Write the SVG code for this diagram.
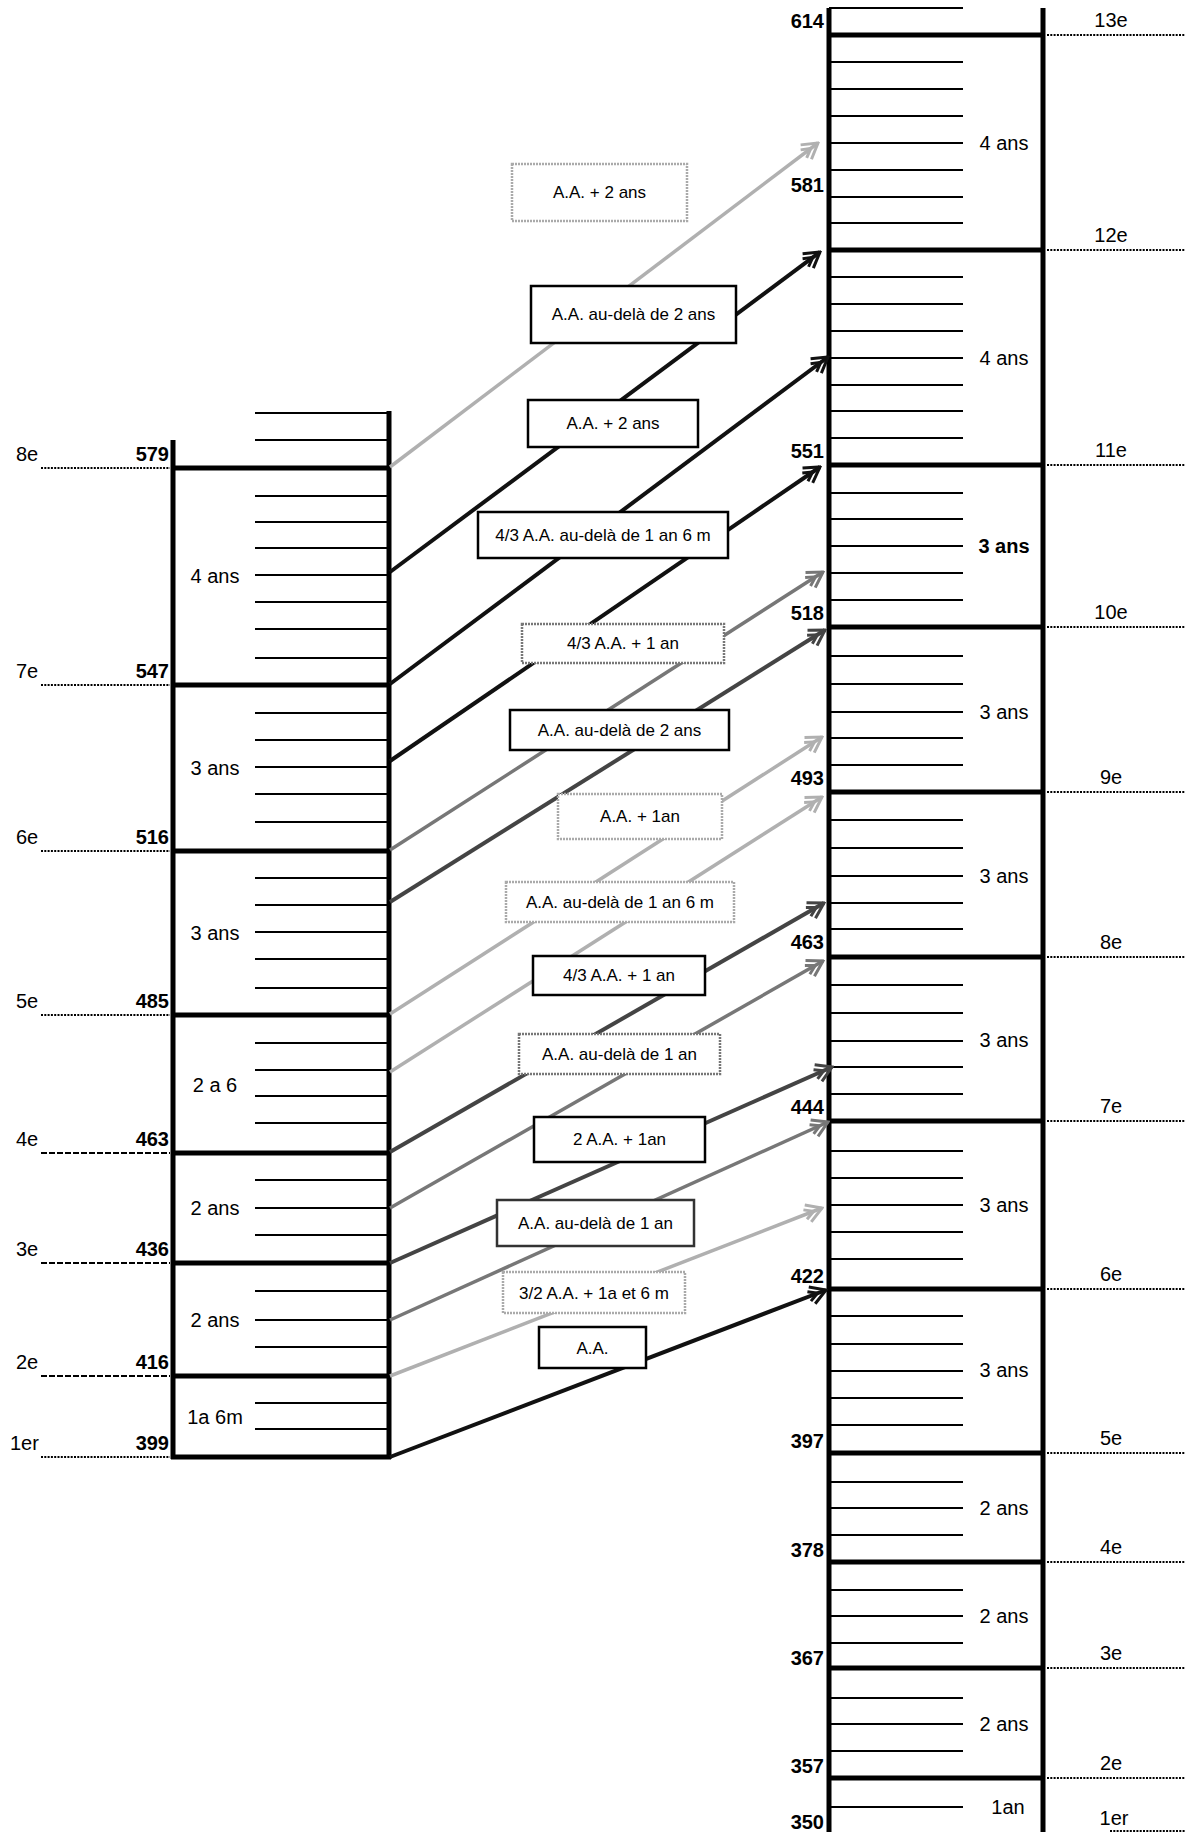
<svg xmlns="http://www.w3.org/2000/svg" width="1185" height="1832" viewBox="0 0 1185 1832">
<style>
text{font-family:"Liberation Sans",Arial,sans-serif;fill:#000}
.num{font-size:20px;font-weight:bold;text-anchor:end}
.ord{font-size:20px}
.ordr{font-size:20px;text-anchor:middle}
.sec{font-size:20px;text-anchor:middle}
.lbl{font-size:17px;text-anchor:middle}
.edge{stroke:#000;stroke-width:5;fill:none}
.major{stroke:#000;stroke-width:5}
.tick{stroke:#000;stroke-width:2}
.dot{stroke:#000;stroke-width:2;stroke-dasharray:2 1.3}
.dash{stroke:#000;stroke-width:2;stroke-dasharray:6 2}
.bx{fill:#fff;stroke:#000;stroke-width:2.5}
.bxg{fill:#fff;stroke:#777;stroke-width:2.5;stroke-dasharray:2 1}
.bxl{fill:#fff;stroke:#aaa;stroke-width:2.5;stroke-dasharray:2 1}
.c-k{stroke:#111;stroke-width:4;fill:none}
.c-d{stroke:#444;stroke-width:4;fill:none}
.c-g{stroke:#777;stroke-width:3.5;fill:none}
.c-l{stroke:#b0b0b0;stroke-width:3.5;fill:none}
</style>
<defs>
<marker id="ak" viewBox="0 0 22 22" refX="20" refY="11" markerWidth="22" markerHeight="22" markerUnits="userSpaceOnUse" orient="auto"><path d="M5,2 L20,11 L5,20 M2,6 L11,11 L2,16" fill="none" stroke="#111" stroke-width="3"/></marker>
<marker id="ad" viewBox="0 0 22 22" refX="20" refY="11" markerWidth="22" markerHeight="22" markerUnits="userSpaceOnUse" orient="auto"><path d="M5,2 L20,11 L5,20 M2,6 L11,11 L2,16" fill="none" stroke="#444" stroke-width="3"/></marker>
<marker id="ag" viewBox="0 0 22 22" refX="20" refY="11" markerWidth="22" markerHeight="22" markerUnits="userSpaceOnUse" orient="auto"><path d="M5,2 L20,11 L5,20 M2,6 L11,11 L2,16" fill="none" stroke="#777" stroke-width="3"/></marker>
<marker id="al" viewBox="0 0 22 22" refX="20" refY="11" markerWidth="22" markerHeight="22" markerUnits="userSpaceOnUse" orient="auto"><path d="M5,2 L20,11 L5,20 M2,6 L11,11 L2,16" fill="none" stroke="#b0b0b0" stroke-width="3"/></marker>
</defs>
<rect width="1185" height="1832" fill="#fff"/>

<!-- Left column -->
<g id="left-scale">
<line class="edge" x1="173" y1="440" x2="173" y2="1459"/>
<line class="edge" x1="389" y1="411" x2="389" y2="1459"/>
<g class="tick">
<line x1="255" y1="413" x2="389" y2="413"/><line x1="255" y1="440" x2="389" y2="440"/>
<line x1="255" y1="496" x2="389" y2="496"/><line x1="255" y1="522" x2="389" y2="522"/><line x1="255" y1="548" x2="389" y2="548"/><line x1="255" y1="575" x2="389" y2="575"/><line x1="255" y1="602" x2="389" y2="602"/><line x1="255" y1="629" x2="389" y2="629"/><line x1="255" y1="658" x2="389" y2="658"/>
<line x1="255" y1="713" x2="389" y2="713"/><line x1="255" y1="740" x2="389" y2="740"/><line x1="255" y1="767" x2="389" y2="767"/><line x1="255" y1="794" x2="389" y2="794"/><line x1="255" y1="822" x2="389" y2="822"/>
<line x1="255" y1="878" x2="389" y2="878"/><line x1="255" y1="905" x2="389" y2="905"/><line x1="255" y1="932" x2="389" y2="932"/><line x1="255" y1="959" x2="389" y2="959"/><line x1="255" y1="988" x2="389" y2="988"/>
<line x1="255" y1="1043" x2="389" y2="1043"/><line x1="255" y1="1070" x2="389" y2="1070"/><line x1="255" y1="1096" x2="389" y2="1096"/><line x1="255" y1="1123" x2="389" y2="1123"/>
<line x1="255" y1="1180" x2="389" y2="1180"/><line x1="255" y1="1208" x2="389" y2="1208"/><line x1="255" y1="1235" x2="389" y2="1235"/>
<line x1="255" y1="1291" x2="389" y2="1291"/><line x1="255" y1="1320" x2="389" y2="1320"/><line x1="255" y1="1347" x2="389" y2="1347"/>
<line x1="255" y1="1403" x2="389" y2="1403"/><line x1="255" y1="1429" x2="389" y2="1429"/>
</g>
<g class="major">
<line x1="171" y1="468" x2="391" y2="468"/><line x1="171" y1="685" x2="391" y2="685"/><line x1="171" y1="851" x2="391" y2="851"/><line x1="171" y1="1015" x2="391" y2="1015"/><line x1="171" y1="1153" x2="391" y2="1153"/><line x1="171" y1="1263" x2="391" y2="1263"/><line x1="171" y1="1376" x2="391" y2="1376"/><line x1="171" y1="1457" x2="391" y2="1457"/>
</g>
<line class="dot" x1="41" y1="468" x2="170" y2="468"/>
<line class="dot" x1="41" y1="685" x2="170" y2="685"/>
<line class="dot" x1="41" y1="851" x2="170" y2="851"/>
<line class="dot" x1="41" y1="1015" x2="170" y2="1015"/>
<line class="dash" x1="41" y1="1153" x2="170" y2="1153"/>
<line class="dash" x1="41" y1="1263" x2="170" y2="1263"/>
<line class="dash" x1="41" y1="1376" x2="170" y2="1376"/>
<line class="dot" x1="41" y1="1457" x2="170" y2="1457"/>
<text class="ord" x="16" y="461">8e</text><text class="num" x="169" y="461">579</text>
<text class="ord" x="16" y="678">7e</text><text class="num" x="169" y="678">547</text>
<text class="ord" x="16" y="844">6e</text><text class="num" x="169" y="844">516</text>
<text class="ord" x="16" y="1008">5e</text><text class="num" x="169" y="1008">485</text>
<text class="ord" x="16" y="1146">4e</text><text class="num" x="169" y="1146">463</text>
<text class="ord" x="16" y="1256">3e</text><text class="num" x="169" y="1256">436</text>
<text class="ord" x="16" y="1369">2e</text><text class="num" x="169" y="1369">416</text>
<text class="ord" x="10" y="1450">1er</text><text class="num" x="169" y="1450">399</text>
<text class="sec" x="215" y="583">4 ans</text>
<text class="sec" x="215" y="775">3 ans</text>
<text class="sec" x="215" y="940">3 ans</text>
<text class="sec" x="215" y="1092">2 a 6</text>
<text class="sec" x="215" y="1215">2 ans</text>
<text class="sec" x="215" y="1327">2 ans</text>
<text class="sec" x="215" y="1424">1a 6m</text>
</g>

<!-- Right column -->
<g id="right-scale">
<line class="edge" x1="829" y1="8" x2="829" y2="1832"/>
<line class="edge" x1="1043" y1="8" x2="1043" y2="1832"/>
<g class="tick">
<line x1="829" y1="8" x2="963" y2="8"/>
<line x1="829" y1="62" x2="963" y2="62"/><line x1="829" y1="89" x2="963" y2="89"/><line x1="829" y1="116" x2="963" y2="116"/><line x1="829" y1="143" x2="963" y2="143"/><line x1="829" y1="170" x2="963" y2="170"/><line x1="829" y1="197" x2="963" y2="197"/><line x1="829" y1="223" x2="963" y2="223"/>
<line x1="829" y1="277" x2="963" y2="277"/><line x1="829" y1="304" x2="963" y2="304"/><line x1="829" y1="331" x2="963" y2="331"/><line x1="829" y1="358" x2="963" y2="358"/><line x1="829" y1="385" x2="963" y2="385"/><line x1="829" y1="411" x2="963" y2="411"/><line x1="829" y1="438" x2="963" y2="438"/>
<line x1="829" y1="493" x2="963" y2="493"/><line x1="829" y1="519" x2="963" y2="519"/><line x1="829" y1="546" x2="963" y2="546"/><line x1="829" y1="573" x2="963" y2="573"/><line x1="829" y1="600" x2="963" y2="600"/>
<line x1="829" y1="656" x2="963" y2="656"/><line x1="829" y1="684" x2="963" y2="684"/><line x1="829" y1="712" x2="963" y2="712"/><line x1="829" y1="738" x2="963" y2="738"/><line x1="829" y1="765" x2="963" y2="765"/>
<line x1="829" y1="820" x2="963" y2="820"/><line x1="829" y1="848" x2="963" y2="848"/><line x1="829" y1="876" x2="963" y2="876"/><line x1="829" y1="903" x2="963" y2="903"/><line x1="829" y1="929" x2="963" y2="929"/>
<line x1="829" y1="985" x2="963" y2="985"/><line x1="829" y1="1013" x2="963" y2="1013"/><line x1="829" y1="1041" x2="963" y2="1041"/><line x1="829" y1="1067" x2="963" y2="1067"/><line x1="829" y1="1094" x2="963" y2="1094"/>
<line x1="829" y1="1151" x2="963" y2="1151"/><line x1="829" y1="1178" x2="963" y2="1178"/><line x1="829" y1="1205" x2="963" y2="1205"/><line x1="829" y1="1232" x2="963" y2="1232"/><line x1="829" y1="1259" x2="963" y2="1259"/>
<line x1="829" y1="1316" x2="963" y2="1316"/><line x1="829" y1="1344" x2="963" y2="1344"/><line x1="829" y1="1371" x2="963" y2="1371"/><line x1="829" y1="1398" x2="963" y2="1398"/><line x1="829" y1="1425" x2="963" y2="1425"/>
<line x1="829" y1="1482" x2="963" y2="1482"/><line x1="829" y1="1508" x2="963" y2="1508"/><line x1="829" y1="1535" x2="963" y2="1535"/>
<line x1="829" y1="1590" x2="963" y2="1590"/><line x1="829" y1="1616" x2="963" y2="1616"/><line x1="829" y1="1643" x2="963" y2="1643"/>
<line x1="829" y1="1698" x2="963" y2="1698"/><line x1="829" y1="1724" x2="963" y2="1724"/><line x1="829" y1="1751" x2="963" y2="1751"/>
<line x1="829" y1="1807" x2="963" y2="1807"/>
</g>
<g class="major">
<line x1="827" y1="35" x2="1045" y2="35"/><line x1="827" y1="250" x2="1045" y2="250"/><line x1="827" y1="465" x2="1045" y2="465"/><line x1="827" y1="627" x2="1045" y2="627"/><line x1="827" y1="792" x2="1045" y2="792"/><line x1="827" y1="957" x2="1045" y2="957"/><line x1="827" y1="1121" x2="1045" y2="1121"/><line x1="827" y1="1289" x2="1045" y2="1289"/><line x1="827" y1="1453" x2="1045" y2="1453"/><line x1="827" y1="1562" x2="1045" y2="1562"/><line x1="827" y1="1668" x2="1045" y2="1668"/><line x1="827" y1="1778" x2="1045" y2="1778"/>
</g>
<g class="dot">
<line x1="1047" y1="35" x2="1185" y2="35"/><line x1="1047" y1="250" x2="1185" y2="250"/><line x1="1047" y1="465" x2="1185" y2="465"/><line x1="1047" y1="627" x2="1185" y2="627"/><line x1="1047" y1="792" x2="1185" y2="792"/><line x1="1047" y1="957" x2="1185" y2="957"/><line x1="1047" y1="1121" x2="1185" y2="1121"/><line x1="1047" y1="1289" x2="1185" y2="1289"/><line x1="1047" y1="1453" x2="1185" y2="1453"/><line x1="1047" y1="1562" x2="1185" y2="1562"/><line x1="1047" y1="1668" x2="1185" y2="1668"/><line x1="1047" y1="1778" x2="1185" y2="1778"/>
<line x1="1110" y1="1831" x2="1185" y2="1831"/>
</g>
<text class="num" x="824" y="28">614</text>
<text class="num" x="824" y="192">581</text>
<text class="num" x="824" y="458">551</text>
<text class="num" x="824" y="620">518</text>
<text class="num" x="824" y="785">493</text>
<text class="num" x="824" y="949">463</text>
<text class="num" x="824" y="1114">444</text>
<text class="num" x="824" y="1283">422</text>
<text class="num" x="824" y="1448">397</text>
<text class="num" x="824" y="1557">378</text>
<text class="num" x="824" y="1665">367</text>
<text class="num" x="824" y="1773">357</text>
<text class="num" x="824" y="1829">350</text>
<text class="ordr" x="1111" y="27">13e</text>
<text class="ordr" x="1111" y="242">12e</text>
<text class="ordr" x="1111" y="457">11e</text>
<text class="ordr" x="1111" y="619">10e</text>
<text class="ordr" x="1111" y="784">9e</text>
<text class="ordr" x="1111" y="949">8e</text>
<text class="ordr" x="1111" y="1113">7e</text>
<text class="ordr" x="1111" y="1281">6e</text>
<text class="ordr" x="1111" y="1445">5e</text>
<text class="ordr" x="1111" y="1554">4e</text>
<text class="ordr" x="1111" y="1660">3e</text>
<text class="ordr" x="1111" y="1770">2e</text>
<text class="ordr" x="1114" y="1825">1er</text>
<text class="sec" x="1004" y="150">4 ans</text>
<text class="sec" x="1004" y="365">4 ans</text>
<text class="sec" x="1004" y="553" font-weight="bold">3 ans</text>
<text class="sec" x="1004" y="719">3 ans</text>
<text class="sec" x="1004" y="883">3 ans</text>
<text class="sec" x="1004" y="1047">3 ans</text>
<text class="sec" x="1004" y="1212">3 ans</text>
<text class="sec" x="1004" y="1377">3 ans</text>
<text class="sec" x="1004" y="1515">2 ans</text>
<text class="sec" x="1004" y="1623">2 ans</text>
<text class="sec" x="1004" y="1731">2 ans</text>
<text class="sec" x="1008" y="1814">1an</text>
</g>

<!-- Connectors -->
<g id="connectors">
<line class="c-l" x1="390" y1="467" x2="818" y2="143" marker-end="url(#al)"/>
<line class="c-k" x1="390" y1="572" x2="820" y2="252" marker-end="url(#ak)"/>
<line class="c-k" x1="390" y1="684" x2="828" y2="357" marker-end="url(#ak)"/>
<line class="c-k" x1="390" y1="761" x2="820" y2="467" marker-end="url(#ak)"/>
<line class="c-g" x1="390" y1="850" x2="823" y2="572" marker-end="url(#ag)"/>
<line class="c-d" x1="390" y1="902" x2="825" y2="630" marker-end="url(#ad)"/>
<line class="c-l" x1="390" y1="1014" x2="822" y2="737" marker-end="url(#al)"/>
<line class="c-l" x1="390" y1="1072" x2="822" y2="797" marker-end="url(#al)"/>
<line class="c-d" x1="390" y1="1152" x2="824" y2="903" marker-end="url(#ad)"/>
<line class="c-g" x1="390" y1="1208" x2="823" y2="961" marker-end="url(#ag)"/>
<line class="c-d" x1="390" y1="1263" x2="832" y2="1067" marker-end="url(#ad)"/>
<line class="c-g" x1="390" y1="1320" x2="828" y2="1122" marker-end="url(#ag)"/>
<line class="c-l" x1="390" y1="1376" x2="822" y2="1208" marker-end="url(#al)"/>
<line class="c-k" x1="390" y1="1457" x2="826" y2="1290" marker-end="url(#ak)"/>
</g>

<!-- Connector labels -->
<g id="lbl1"><rect class="bxl" x="512" y="164" width="175" height="57"/><text class="lbl" x="599.5" y="198">A.A. + 2 ans</text></g>
<g id="lbl2"><rect class="bx" x="531" y="286" width="205" height="57"/><text class="lbl" x="633.5" y="320">A.A. au-delà de 2 ans</text></g>
<g id="lbl3"><rect class="bx" x="528" y="400" width="170" height="47"/><text class="lbl" x="613" y="429">A.A. + 2 ans</text></g>
<g id="lbl4"><rect class="bx" x="478" y="512" width="250" height="46"/><text class="lbl" x="603" y="541">4/3 A.A. au-delà de 1 an 6 m</text></g>
<g id="lbl5"><rect class="bxg" x="522" y="624" width="202" height="39"/><text class="lbl" x="623" y="649">4/3 A.A. + 1 an</text></g>
<g id="lbl6"><rect class="bx" x="510" y="710" width="219" height="40"/><text class="lbl" x="619.5" y="736">A.A. au-delà de 2 ans</text></g>
<g id="lbl7"><rect class="bxl" x="558" y="794" width="164" height="45"/><text class="lbl" x="640" y="822">A.A. + 1an</text></g>
<g id="lbl8"><rect class="bxl" x="506" y="882" width="228" height="40"/><text class="lbl" x="620" y="908">A.A. au-delà de 1 an 6 m</text></g>
<g id="lbl9"><rect class="bx" x="533" y="956" width="172" height="39"/><text class="lbl" x="619" y="981">4/3 A.A. + 1 an</text></g>
<g id="lbl10"><rect class="bxg" x="519" y="1034" width="201" height="40"/><text class="lbl" x="619.5" y="1060">A.A. au-delà de 1 an</text></g>
<g id="lbl11"><rect class="bx" x="534" y="1117" width="171" height="45"/><text class="lbl" x="619.5" y="1145">2 A.A. + 1an</text></g>
<g id="lbl12"><rect class="bx" x="497" y="1200" width="197" height="46" style="stroke:#333"/><text class="lbl" x="595.5" y="1229">A.A. au-delà de 1 an</text></g>
<g id="lbl13"><rect class="bxl" x="503" y="1272" width="182" height="41"/><text class="lbl" x="594" y="1299">3/2 A.A. + 1a et 6 m</text></g>
<g id="lbl14"><rect class="bx" x="539" y="1327" width="107" height="41"/><text class="lbl" x="592.5" y="1354">A.A.</text></g>
</svg>
